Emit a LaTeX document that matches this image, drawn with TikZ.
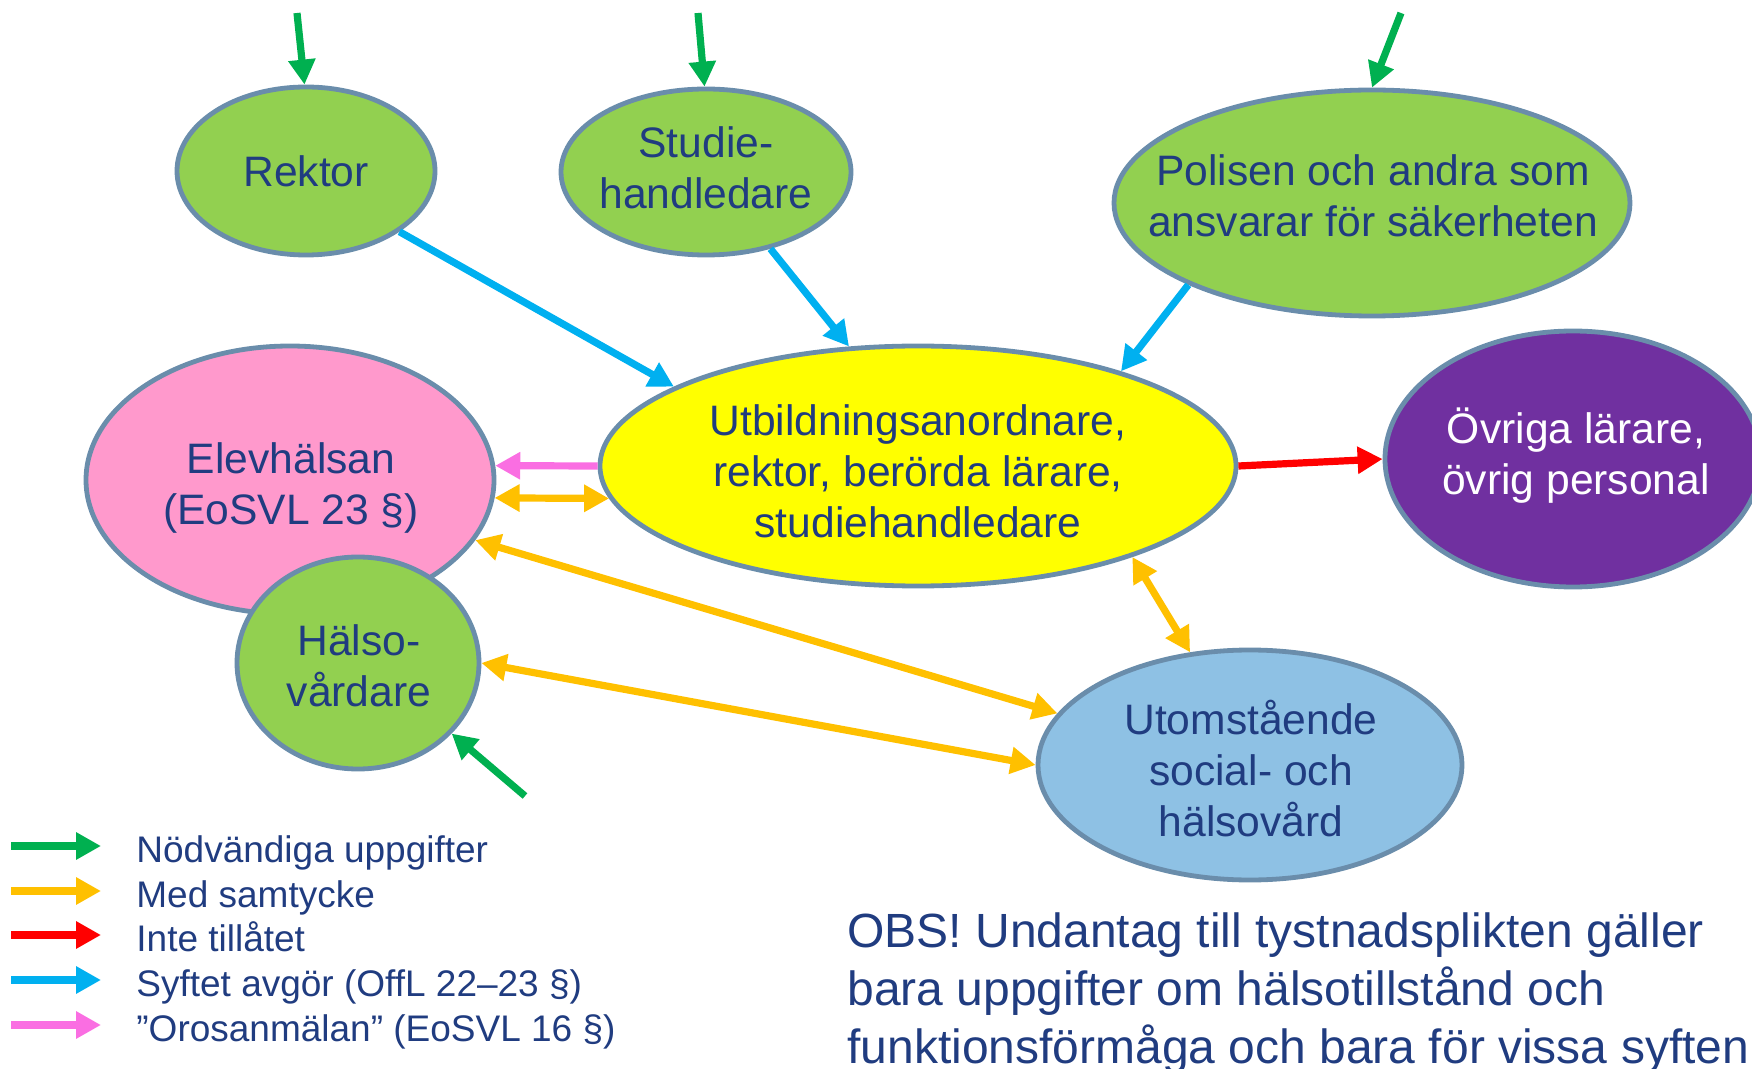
\documentclass[tikz,border=0pt]{standalone}
\usepackage{fontspec}
\setmainfont{Liberation Sans}
\usetikzlibrary{shapes.geometric,arrows.meta}
\definecolor{txt}{HTML}{203C80}
\definecolor{edge}{HTML}{6A8DAB}
\definecolor{fgreen}{HTML}{92D050}
\definecolor{fpink}{HTML}{FF99CC}
\definecolor{fyellow}{HTML}{FFFF00}
\definecolor{fpurple}{HTML}{7030A0}
\definecolor{fblue}{HTML}{8EC1E4}
\definecolor{agreen}{HTML}{00B050}
\definecolor{aorange}{HTML}{FFC000}
\definecolor{ared}{HTML}{FF0000}
\definecolor{ablue}{HTML}{00B0F0}
\definecolor{apink}{HTML}{FA6EE2}
\begin{document}
\begin{tikzpicture}[x=0.5pt,y=-0.5pt,
  bub/.style={ellipse,draw=edge,line width=2.4pt,inner sep=0pt},
  lbl/.style={text=txt,font=\fontsize{21.3}{25.5}\selectfont,align=center,inner sep=0pt},
  lgd/.style={text=txt,font=\fontsize{18.5}{22}\selectfont,anchor=base west,inner sep=0pt},
  obs/.style={text=txt,font=\fontsize{24}{29}\selectfont,anchor=base west,inner sep=0pt},
  arr/.style={line width=3.6pt,-{Triangle[length=12.5pt,width=13pt]}},
  darr/.style={line width=3.6pt,{Triangle[length=12.5pt,width=13pt]}-{Triangle[length=12.5pt,width=13pt]}},
]
\useasboundingbox (0,0) rectangle (1752,1069);

% ellipses
\node[bub,fill=fgreen,minimum width=129pt,minimum height=84pt] (rek) at (306,171) {};
\node[bub,fill=fgreen,minimum width=145pt,minimum height=83pt] (stu) at (706,172) {};
\node[bub,fill=fgreen,minimum width=258pt,minimum height=113pt] (pol) at (1372,203) {};
\node[bub,fill=fyellow,minimum width=318pt,minimum height=120pt] (utb) at (918,466) {};
\node[bub,fill=fpurple,minimum width=188pt,minimum height=128pt] (ovr) at (1573,459) {};
\node[bub,fill=fpink,minimum width=204pt,minimum height=134pt] (elev) at (290,480) {};
\node[bub,fill=fgreen,minimum width=121pt,minimum height=106pt] (hal) at (358,663) {};
\node[bub,fill=fblue,minimum width=212pt,minimum height=115pt] (uto) at (1250,765) {};

% texts
\node[lbl] (trek) at (306,171) {Rektor};
\node[lbl] (tstu) at (706,168) {Studie-\\handledare};
\node[lbl] (tpol) at (1373,196) {Polisen och andra som\\ansvarar för säkerheten};
\node[lbl] (tutb) at (918,471) {Utbildningsanordnare,\\rektor, berörda lärare,\\studiehandledare};
\node[lbl,text=white] (tovr) at (1576,456) {Övriga lärare,\\övrig personal};
\node[lbl] (telev) at (291,488) {Elevhälsan\\(EoSVL 23 §)};
\node[lbl] (thal) at (359,666) {Hälso-\\vårdare};
\node[lbl] (tuto) at (1251,769) {Utomstående\\social- och\\hälsovård};

% free starts
\coordinate (g1) at (297,13);
\coordinate (g2) at (698,13);
\coordinate (g3) at (1401,13);
\coordinate (g4) at (525,796);

% green arrows
\draw[arr,agreen] (g1) -- (rek.91);
\draw[arr,agreen] (g2) -- (stu.91);
\draw[arr,agreen] (g3) -- (pol.90);
\draw[arr,agreen] (g4) -- (hal.-37);

% blue arrows
\draw[arr,ablue] (rek.-33) -- (utb.162.5);
\draw[arr,ablue] (stu.-50) -- (utb.120);
\draw[arr,ablue] (pol.204) -- (utb.25.5);

% pink
\draw[arr,apink] (utb.180) -- (elev.4);

% red
\draw[arr,ared] (utb.0) -- (ovr.180);

% orange
\draw[darr,aorange] (elev.-5) -- (utb.186.3);
\draw[darr,aorange] (utb.-23.5) -- (uto.118.5);
\draw[darr,aorange] (elev.-18) -- (uto.165.8);
\draw[darr,aorange] (hal.0) -- (uto.180.5);

% legend
\coordinate (l1a) at (11,846);  \coordinate (l1b) at (101,846);
\coordinate (l2a) at (11,891);  \coordinate (l2b) at (101,891);
\coordinate (l3a) at (11,935);  \coordinate (l3b) at (101,935);
\coordinate (l4a) at (11,980);  \coordinate (l4b) at (101,980);
\coordinate (l5a) at (11,1025); \coordinate (l5b) at (101,1025);
\draw[arr,agreen] (l1a) -- (l1b);
\draw[arr,aorange] (l2a) -- (l2b);
\draw[arr,ared] (l3a) -- (l3b);
\draw[arr,ablue] (l4a) -- (l4b);
\draw[arr,apink] (l5a) -- (l5b);
\node[lgd] (lt1) at (136,862.5) {Nödvändiga uppgifter};
\node[lgd] (lt2) at (136,907.5) {Med samtycke};
\node[lgd] (lt3) at (136,951.5) {Inte tillåtet};
\node[lgd] (lt4) at (136,996.5) {Syftet avgör (OffL 22–23 §)};
\node[lgd] (lt5) at (136,1041.5) {”Orosanmälan” (EoSVL 16 §)};

% OBS note
\node[obs] (obs1) at (847,947.5) {OBS! Undantag till tystnadsplikten gäller};
\node[obs] (obs2) at (847,1005.5) {bara uppgifter om hälsotillstånd och};
\node[obs] (obs3) at (847,1063.5) {funktionsförmåga och bara för vissa syften};
\end{tikzpicture}
\end{document}
